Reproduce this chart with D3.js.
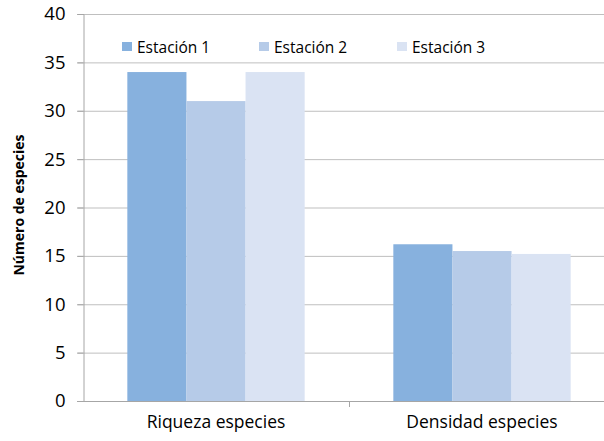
<!DOCTYPE html>
<html>
<head>
<meta charset="utf-8">
<script src="https://cdn.jsdelivr.net/npm/d3@7"></script>
<style>
  html, body { margin: 0; padding: 0; background: #fff; }
  svg { display: block; }
  text { font-family: "Open Sans", "Liberation Sans", sans-serif; fill: #000; }
</style>
</head>
<body>
<svg id="chart" width="604" height="441"></svg>
<script>
// Categories, series and values
const categories = ["Riqueza especies", "Densidad especies"];
const seriesNames = ["Estación 1", "Estación 2", "Estación 3"];
const estacion1 = [34, 16.2];
const estacion2 = [31, 15.5];
const estacion3 = [34, 15.2];
const yTicks = [0, 5, 10, 15, 20, 25, 30, 35, 40];
const colors = ["#87b1de", "#b6cbe8", "#dae3f3"];

const seriesValues = [estacion1, estacion2, estacion3];
const rows = categories.map((c, i) => ({
  category: c,
  values: seriesNames.map((s, j) => ({ series: s, value: seriesValues[j][i] }))
}));

const svg = d3.select("#chart");
const plot = { left: 83, right: 615, top: 14, bottom: 401 };

const x0 = d3.scaleBand().domain(categories).range([plot.left, plot.right]).paddingInner(0).paddingOuter(0);
const x1 = d3.scaleBand().domain(seriesNames).range([0, x0.bandwidth()]).paddingInner(0).paddingOuter(0.75);
const y = d3.scaleLinear().domain([0, 40]).range([plot.bottom, plot.top]);
const color = d3.scaleOrdinal().domain(seriesNames).range(colors);

// Horizontal gridlines
svg.append("g")
  .selectAll("line")
  .data(yTicks.filter(t => t > 0))
  .join("line")
  .attr("x1", plot.left - 6).attr("x2", plot.right)
  .attr("y1", d => y(d) + 0.5).attr("y2", d => y(d) + 0.5)
  .attr("stroke", "#bfbfbf").attr("stroke-width", 1);

// Y axis
const yAxis = svg.append("g")
  .attr("transform", `translate(${plot.left + 0.5},0)`)
  .call(d3.axisLeft(y).tickValues(yTicks).tickSize(6).tickPadding(12));
yAxis.select(".domain").attr("stroke", "#a6a6a6");
yAxis.selectAll(".tick line").attr("stroke", "#a6a6a6");
yAxis.selectAll(".tick text")
  .attr("font-size", 18.5)
  .attr("font-family", "'Open Sans', sans-serif");

// Bars
const groups = svg.append("g")
  .selectAll("g")
  .data(rows)
  .join("g")
  .attr("transform", d => `translate(${x0(d.category)},0)`);

groups.selectAll("rect")
  .data(d => d.values)
  .join("rect")
  .attr("x", d => x1(d.series))
  .attr("width", x1.bandwidth())
  .attr("y", d => y(d.value))
  .attr("height", d => y(0) - y(d.value))
  .attr("fill", d => color(d.series));

// X axis
const xAxis = svg.append("g")
  .attr("transform", `translate(0,${plot.bottom + 0.5})`)
  .call(d3.axisBottom(x0).tickSize(0).tickPadding(14));
xAxis.select(".domain").remove();
svg.append("line")
  .attr("x1", plot.left - 6).attr("x2", plot.right)
  .attr("y1", plot.bottom + 0.5).attr("y2", plot.bottom + 0.5)
  .attr("stroke", "#a6a6a6");
// Category boundary ticks
svg.append("g")
  .selectAll("line")
  .data(categories.slice(1))
  .join("line")
  .attr("x1", d => x0(d) + 0.5).attr("x2", d => x0(d) + 0.5)
  .attr("y1", plot.bottom).attr("y2", plot.bottom + 6)
  .attr("stroke", "#a6a6a6");
xAxis.selectAll(".tick text")
  .attr("font-size", 17.5)
  .attr("font-family", "'Open Sans', sans-serif");

// Y axis title
svg.append("text")
  .attr("transform", `translate(24,205) rotate(-90)`)
  .attr("text-anchor", "middle")
  .attr("font-size", 14)
  .attr("font-weight", "bold")
  .text("Número de especies");

// Legend
const legendX = [122, 259, 397];
const legend = svg.append("g")
  .selectAll("g")
  .data(seriesNames)
  .join("g")
  .attr("transform", (d, i) => `translate(${legendX[i]},42)`);
legend.append("rect")
  .attr("width", 10).attr("height", 9)
  .attr("fill", d => color(d));
legend.append("text")
  .attr("x", 15).attr("y", 10.5)
  .attr("font-size", 15.5)
  .text(d => d);
</script>
</body>
</html>
